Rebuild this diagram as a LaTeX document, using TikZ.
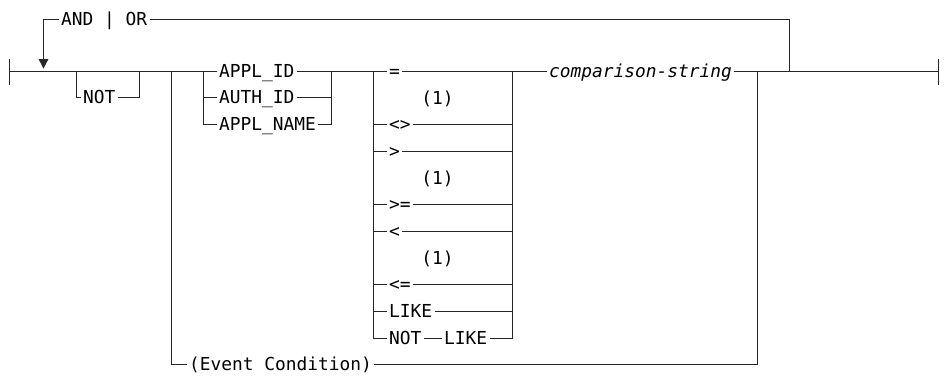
\documentclass[tikz,border=0pt]{standalone}
\usepackage{fontspec}
\newfontfamily\rrfont{DejaVu Sans Mono}
\usetikzlibrary{arrows.meta}
\begin{document}
\begin{tikzpicture}[x=0.75pt,y=-0.75pt,line width=0.75pt,draw=black!85,
		kw/.style={anchor=west,inner xsep=1.5pt,inner ysep=0pt,text height=9.3pt,text depth=0pt,font=\rrfont\fontsize{13.4}{15}\selectfont},
		var/.style={kw,font=\rrfont\itshape\fontsize{13.4}{15}\selectfont},
		note/.style={inner sep=0pt,font=\rrfont\fontsize{13.4}{15}\selectfont}]
		\useasboundingbox (-0.5,-0.5) rectangle (943.5,375.5);
		% set up junctions
		\coordinate (start) at (8,71);
		\coordinate (end) at (938,71);
		\coordinate (loopin) at (43,71);
		\coordinate (loopout) at (789,71);
		\coordinate (notin) at (76,71);
		\coordinate (notout) at (139,71);
		\coordinate (choice) at (171,71);
		\coordinate (fieldin) at (203,71);
		\coordinate (fieldout) at (331,71);
		\coordinate (opin) at (373,71);
		\coordinate (opout) at (512,71);
		\coordinate (join) at (757,71);
		% set up nodes
		\node[kw] (andor) at (58,19) {AND \textbar{} OR};
		\node[kw] (not) at (80,97) {NOT};
		\node[kw] (applid) at (216,71) {APPL\_ID};
		\node[kw] (authid) at (216,97) {AUTH\_ID};
		\node[kw] (applname) at (216,124) {APPL\_NAME};
		\node[kw] (eq) at (386,71) {=};
		\node[kw] (notlike) at (386,338) {NOT};
		\node[kw] (like2) at (441,338) {LIKE};
		\node[var] (cmp) at (546,71) {comparison-string};
		\node[kw] (event) at (186,364) {(Event Condition)};
		\node[note] (n1) at (437,98) {(1)};
		\node[note] (n2) at (437,178.5) {(1)};
		\node[note] (n3) at (437,258.5) {(1)};
		% main line
		\draw[{Bar[width=19.5pt]}-] (start) -- (applid.west);
		\draw (applid.east) -- (eq.west);
		\draw (eq.east) -- (cmp.west);
		\draw[-{Bar[width=19.5pt]}] (cmp.east) -- (end);
		% repeat loop
		\draw (loopout) |- (andor.east);
		\draw[-{Triangle[width=7pt,length=7pt]},shorten >=2.2pt] (andor.west) -| (loopin);
		% optional NOT
		\draw (notin) |- (not.west);
		\draw (not.east) -| (notout);
		% field names
		\draw (fieldin) |- (authid.west);
		\draw (fieldin) |- (applname.west);
		\draw (authid.east) -| (fieldout);
		\draw (applname.east) -| (fieldout);
		% operators
		\foreach \name/\txt/\y in {ne/{<>}/124,gt/{>}/151,ge/{>=}/204,lt/{<}/231,le/{<=}/284,like/LIKE/311}{
			\node[kw] (\name) at (386,\y) {\txt};
			\draw (opin) |- (\name.west);
			\draw (\name.east) -| (opout);
		}
		\draw (opin) |- (notlike.west);
		\draw (notlike.east) -- (like2.west);
		\draw (like2.east) -| (opout);
		% event condition
		\draw (choice) |- (event.west);
		\draw (event.east) -| (join);
	\end{tikzpicture}
\end{document}
